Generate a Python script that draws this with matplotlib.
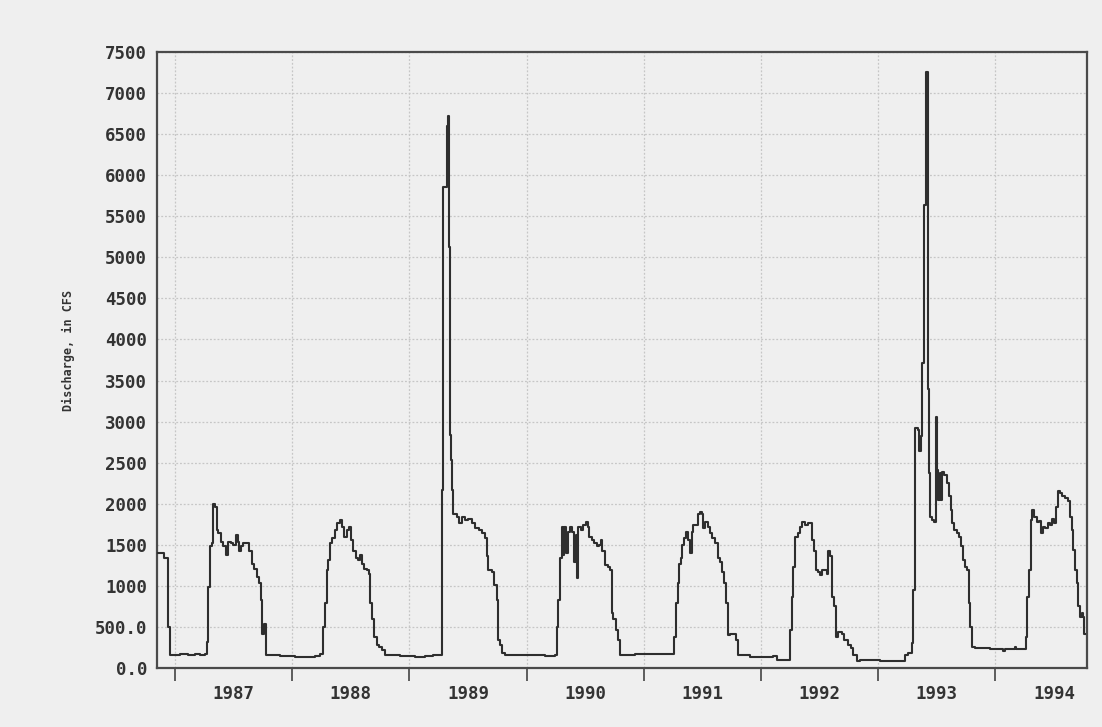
import matplotlib
matplotlib.use("Agg")
import matplotlib.pyplot as plt
from matplotlib.ticker import FixedLocator, NullFormatter, FixedFormatter

# ---- data (decimal year, discharge in CFS) ----
t_1987 = [1986.844, 1986.902, 1986.943, 1986.957, 1987.043, 1987.111, 1987.171, 1987.213,
          1987.256, 1987.270, 1987.284, 1987.299, 1987.313, 1987.327, 1987.341, 1987.354,
          1987.369, 1987.392, 1987.412, 1987.433, 1987.450, 1987.478, 1987.497, 1987.518,
          1987.535, 1987.546, 1987.563, 1987.583, 1987.612, 1987.631, 1987.654, 1987.677,
          1987.697, 1987.717, 1987.734, 1987.745, 1987.762, 1987.774, 1987.896, 1988.024,
          1988.109, 1988.194, 1988.237]
q_1987 = [1400, 1340, 500, 160, 175, 160, 170, 160,
          165, 320, 990, 1480, 1520, 2000, 1960, 1680,
          1640, 1540, 1480, 1380, 1540, 1520, 1500, 1620,
          1540, 1420, 1480, 1520, 1520, 1420, 1270, 1210,
          1110, 1030, 830, 420, 540, 160, 150, 140,
          130, 150, 175]

t_1988 = [1988.265, 1988.280, 1988.294, 1988.308, 1988.322, 1988.342, 1988.365, 1988.385,
          1988.408, 1988.422, 1988.444, 1988.465, 1988.485, 1988.502, 1988.521, 1988.542,
          1988.564, 1988.578, 1988.593, 1988.615, 1988.636, 1988.655, 1988.666, 1988.678,
          1988.698, 1988.721, 1988.741, 1988.764, 1988.792, 1988.920, 1989.048, 1989.133,
          1989.201]
q_1988 = [500, 790, 1190, 1320, 1520, 1580, 1680, 1760,
          1800, 1720, 1600, 1680, 1720, 1560, 1420, 1340,
          1310, 1380, 1270, 1210, 1190, 1150, 790, 600,
          380, 280, 260, 220, 160, 150, 140, 150,
          160]

t_1989 = [1989.276, 1989.289, 1989.318, 1989.329, 1989.340, 1989.346, 1989.355, 1989.361,
          1989.374, 1989.403, 1989.423, 1989.446, 1989.474, 1989.502, 1989.531, 1989.560,
          1989.594, 1989.617, 1989.645, 1989.659, 1989.673, 1989.702, 1989.724, 1989.745,
          1989.753, 1989.773, 1989.793, 1989.816, 1989.944, 1990.072, 1990.157, 1990.242]
q_1989 = [2170, 5860, 6600, 6720, 5130, 2840, 2530, 2170,
          1880, 1840, 1760, 1840, 1800, 1820, 1760, 1700,
          1680, 1640, 1580, 1360, 1190, 1170, 1010, 830,
          340, 280, 180, 160, 155, 160, 150, 160]

t_1990 = [1990.257, 1990.270, 1990.285, 1990.299, 1990.308, 1990.322, 1990.336, 1990.351,
          1990.370, 1990.390, 1990.404, 1990.419, 1990.427, 1990.441, 1990.464, 1990.484,
          1990.504, 1990.521, 1990.535, 1990.555, 1990.578, 1990.598, 1990.618, 1990.635,
          1990.646, 1990.669, 1990.697, 1990.714, 1990.726, 1990.740, 1990.760, 1990.777,
          1990.797, 1990.925, 1991.053, 1991.252]
q_1990 = [500, 830, 1340, 1720, 1380, 1720, 1400, 1660,
          1720, 1660, 1290, 1620, 1090, 1720, 1680, 1740,
          1780, 1720, 1600, 1560, 1520, 1480, 1500, 1560,
          1420, 1250, 1230, 1190, 670, 600, 460, 340,
          160, 170, 165, 165]

t_1991 = [1991.260, 1991.272, 1991.289, 1991.300, 1991.317, 1991.328, 1991.345, 1991.357,
          1991.374, 1991.394, 1991.409, 1991.422, 1991.460, 1991.479, 1991.499, 1991.508,
          1991.522, 1991.545, 1991.565, 1991.584, 1991.607, 1991.630, 1991.650, 1991.670,
          1991.687, 1991.699, 1991.716, 1991.735, 1991.784, 1991.801, 1991.906, 1992.105,
          1992.134, 1992.233]
q_1991 = [380, 790, 1030, 1270, 1340, 1500, 1580, 1660,
          1560, 1400, 1650, 1740, 1880, 1900, 1880, 1700,
          1780, 1720, 1640, 1580, 1520, 1340, 1290, 1170,
          1030, 790, 400, 420, 340, 160, 140, 145,
          100, 100]

t_1992 = [1992.247, 1992.262, 1992.275, 1992.290, 1992.313, 1992.333, 1992.352, 1992.375,
          1992.398, 1992.432, 1992.452, 1992.467, 1992.484, 1992.503, 1992.523, 1992.560,
          1992.574, 1992.589, 1992.603, 1992.625, 1992.637, 1992.659, 1992.688, 1992.711,
          1992.740, 1992.768, 1992.787, 1992.816, 1992.844, 1993.015, 1993.228, 1993.257,
          1993.286, 1993.299]
q_1992 = [460, 870, 1230, 1600, 1640, 1720, 1780, 1740,
          1760, 1560, 1420, 1190, 1170, 1130, 1190, 1150,
          1420, 1360, 870, 750, 380, 440, 420, 340,
          280, 240, 160, 80, 95, 90, 160, 180,
          300, 950]

t_1993 = [1993.314, 1993.337, 1993.348, 1993.365, 1993.376, 1993.391, 1993.408, 1993.427,
          1993.436, 1993.442, 1993.461, 1993.478, 1993.490, 1993.504, 1993.513, 1993.524,
          1993.536, 1993.547, 1993.564, 1993.584, 1993.604, 1993.621, 1993.632, 1993.649,
          1993.670, 1993.689, 1993.706, 1993.726, 1993.740, 1993.755, 1993.774, 1993.783,
          1993.798, 1993.826, 1993.954, 1994.067, 1994.082, 1994.167, 1994.175]
q_1993 = [2920, 2900, 2640, 2820, 3710, 5640, 7260, 3400,
          2370, 1840, 1800, 1780, 3060, 2410, 2040, 2370,
          2040, 2390, 2350, 2250, 2090, 1920, 1760, 1680,
          1640, 1600, 1480, 1320, 1230, 1190, 790, 500,
          260, 240, 230, 210, 230, 250, 230]

t_1994 = [1994.258, 1994.267, 1994.286, 1994.303, 1994.315, 1994.332, 1994.352, 1994.372,
          1994.389, 1994.403, 1994.423, 1994.446, 1994.466, 1994.485, 1994.502, 1994.514,
          1994.531, 1994.551, 1994.570, 1994.594, 1994.617, 1994.636, 1994.651, 1994.664,
          1994.679, 1994.693, 1994.707, 1994.722, 1994.736, 1994.750, 1994.758, 1994.768]
q_1994 = [380, 870, 1190, 1800, 1920, 1840, 1780, 1790,
          1640, 1720, 1700, 1760, 1740, 1820, 1760, 1960,
          2150, 2130, 2090, 2070, 2030, 1840, 1680, 1440,
          1190, 1030, 750, 620, 670, 620, 420, 420]

year_ticks = [1987, 1988, 1989, 1990, 1991, 1992, 1993, 1994]
year_labels = ["1987", "1988", "1989", "1990", "1991", "1992", "1993", "1994"]
y_ticks = [0, 500, 1000, 1500, 2000, 2500, 3000, 3500, 4000, 4500, 5000, 5500, 6000, 6500, 7000, 7500]
y_labels = ["0.0", "500.0", "1000", "1500", "2000", "2500", "3000", "3500", "4000",
            "4500", "5000", "5500", "6000", "6500", "7000", "7500"]

# ---- plot ----
t = t_1987 + t_1988 + t_1989 + t_1990 + t_1991 + t_1992 + t_1993 + t_1994
q = q_1987 + q_1988 + q_1989 + q_1990 + q_1991 + q_1992 + q_1993 + q_1994

bg = "#efefef"
fig = plt.figure(figsize=(11.02, 7.27), dpi=100, facecolor=bg)
ax = fig.add_axes([157 / 1102, 1 - 668 / 727, (1086.7 - 157) / 1102, (668 - 52) / 727])
ax.set_facecolor(bg)

ax.plot(t, q, drawstyle="steps-post", color="#2e2e2e", lw=1.5, zorder=3)

ax.set_xlim(1986.846, 1994.779)
ax.set_ylim(0, 7500)

fam = "DejaVu Sans Mono"

ax.yaxis.set_major_locator(FixedLocator(y_ticks))
ax.yaxis.set_major_formatter(FixedFormatter(y_labels))
ax.tick_params(axis="y", length=0, pad=7)
for lab in ax.get_yticklabels():
    lab.set_fontfamily(fam)
    lab.set_fontweight("bold")
    lab.set_fontsize(12.5)
    lab.set_color("#333333")

ax.xaxis.set_major_locator(FixedLocator(year_ticks))
ax.xaxis.set_major_formatter(NullFormatter())
ax.xaxis.set_minor_locator(FixedLocator([y + 0.5 for y in year_ticks]))
ax.xaxis.set_minor_formatter(FixedFormatter(year_labels))
ax.tick_params(axis="x", which="major", length=9, width=1.2, color="#444444", direction="out")
ax.tick_params(axis="x", which="minor", length=0, pad=12)
for lab in ax.get_xticklabels(minor=True):
    lab.set_fontfamily(fam)
    lab.set_fontweight("bold")
    lab.set_fontsize(12.5)
    lab.set_color("#333333")

ax.grid(True, which="major", axis="both", color="#c6c6c6", lw=0.9, ls=(0, (1.5, 1.5)), zorder=1)

for s in ax.spines.values():
    s.set_color("#4a4a4a")
    s.set_linewidth(1.6)

ax.set_ylabel("Discharge, in CFS", fontfamily=fam, fontweight="bold",
              fontsize=8.5, color="#333333")
ax.yaxis.set_label_coords(-0.088, 0.515)

fig.savefig("out.png", dpi=100, facecolor=bg)
